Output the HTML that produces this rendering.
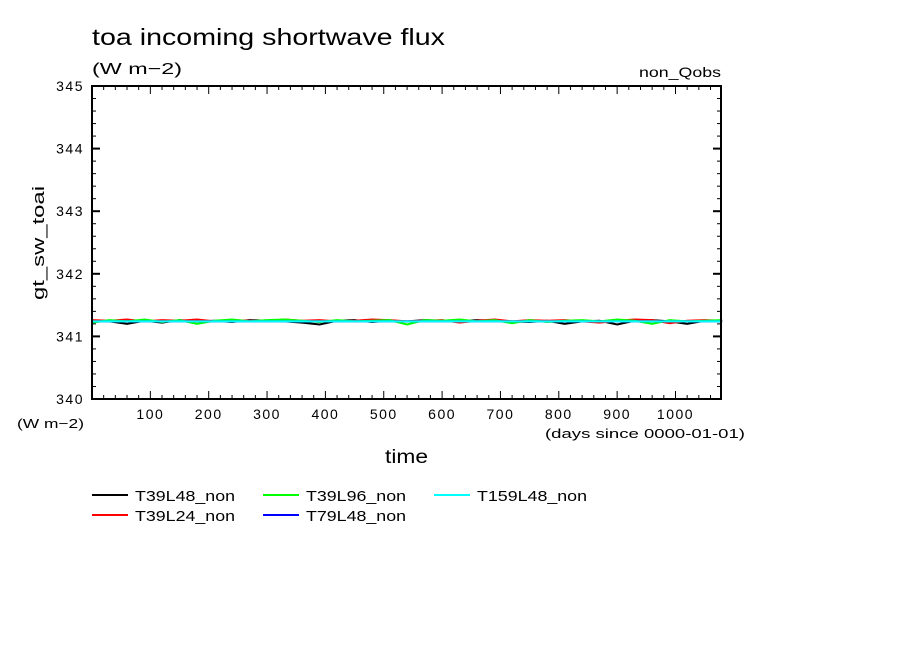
<!DOCTYPE html>
<html><head><meta charset="utf-8"><style>
body{margin:0;background:#fff;}
svg text{font-family:"Liberation Sans",sans-serif;fill:#000;}
</style></head><body>
<svg id="chart" width="904" height="654" viewBox="0 0 904 654" xmlns="http://www.w3.org/2000/svg">
<rect width="904" height="654" fill="#fff"/>
<text x="92" y="45" font-size="23" textLength="353" lengthAdjust="spacingAndGlyphs">toa incoming shortwave flux</text>
<text x="92" y="74" font-size="16" textLength="90" lengthAdjust="spacingAndGlyphs">(W m−2)</text>
<text x="639" y="77" font-size="14" textLength="82" lengthAdjust="spacingAndGlyphs">non_Qobs</text>
<text x="17" y="428" font-size="13" textLength="67" lengthAdjust="spacingAndGlyphs">(W m−2)</text>
<text x="545" y="438" font-size="13" textLength="200" lengthAdjust="spacingAndGlyphs">(days since 0000-01-01)</text>
<text x="385" y="463" font-size="19" textLength="43" lengthAdjust="spacingAndGlyphs">time</text>
<text transform="translate(44,300) rotate(-90)" font-size="17" textLength="114" lengthAdjust="spacingAndGlyphs">gt_sw_toai</text>
<g id="axes"></g>
<g id="series"></g>
<rect x="92" y="86" width="629" height="313" fill="none" stroke="#000" stroke-width="2"/>
<g id="legend"></g>
</svg>
<script>
const xTicks=[100,200,300,400,500,600,700,800,900,1000];
const yTicks=[340,341,342,343,344,345];
const days=[0,30,60,90,120,150,180,210,240,270,300,330,360,390,420,450,480,510,540,570,600,630,660,690,720,750,780,810,840,870,900,930,960,990,1020,1050,1080];
const sT39L48=[341.25,341.24,341.20,341.25,341.22,341.26,341.24,341.25,341.23,341.26,341.25,341.24,341.22,341.19,341.25,341.26,341.23,341.25,341.24,341.26,341.25,341.24,341.26,341.25,341.24,341.23,341.25,341.20,341.24,341.25,341.19,341.25,341.26,341.24,341.20,341.25,341.24];
const sT39L24=[341.26,341.25,341.27,341.24,341.26,341.25,341.27,341.24,341.26,341.25,341.24,341.27,341.25,341.26,341.24,341.25,341.27,341.26,341.24,341.25,341.26,341.22,341.25,341.27,341.24,341.26,341.25,341.26,341.24,341.22,341.25,341.27,341.26,341.21,341.25,341.26,341.25];
const sT39L96=[341.22,341.26,341.24,341.27,341.23,341.26,341.20,341.25,341.27,341.24,341.26,341.27,341.25,341.23,341.26,341.24,341.25,341.26,341.19,341.26,341.25,341.27,341.24,341.26,341.21,341.26,341.23,341.25,341.26,341.24,341.27,341.25,341.20,341.26,341.24,341.25,341.26];
const sT79L48=[341.24,341.24,341.24,341.24,341.24,341.24,341.24,341.24,341.24,341.24,341.24,341.24,341.24,341.24,341.24,341.24,341.24,341.24,341.24,341.24,341.24,341.24,341.24,341.24,341.24,341.24,341.24,341.24,341.24,341.24,341.24,341.24,341.24,341.24,341.24,341.24,341.24];
const sT159L48=[341.24,341.24,341.24,341.24,341.24,341.24,341.24,341.24,341.24,341.24,341.24,341.24,341.24,341.24,341.24,341.24,341.24,341.24,341.24,341.24,341.24,341.24,341.24,341.24,341.24,341.24,341.24,341.24,341.24,341.24,341.24,341.24,341.24,341.24,341.24,341.24,341.24];
const NS="http://www.w3.org/2000/svg";
const X0=92,X1=721,Y0=399,Y1=86,XMIN=0,XMAX=1078,YMIN=340,YMAX=345;
function xs(v){return X0+(v-XMIN)/(XMAX-XMIN)*(X1-X0);}
function ys(v){return Y0-(v-YMIN)/(YMAX-YMIN)*(Y0-Y1);}
function mk(t,a,p){const e=document.createElementNS(NS,t);for(const k in a)e.setAttribute(k,a[k]);p.appendChild(e);return e;}
const axes=document.getElementById('axes');
for(let d=20;d<XMAX;d+=20){const x=xs(d);const big=d%100===0;
 const t=mk('line',{x1:x,x2:x,y1:Y0,y2:Y0-(big?8:4),stroke:'#000','stroke-width':1},axes);
 
 
 const t2=mk('line',{x1:x,x2:x,y1:Y1,y2:Y1+(big?8:4),stroke:'#000','stroke-width':1},axes);
 
 }
xTicks.forEach(v=>{const t=mk('text',{x:xs(v),y:419,'font-size':14,'text-anchor':'middle','letter-spacing':'1.5'},axes);t.textContent=v;
 
 });
for(let i=0;i<=25;i++){const v=YMIN+i*0.2;const y=ys(v);const big=i%5===0;
 const t=mk('line',{x1:X0,x2:X0+(big?8:4),y1:y,y2:y,stroke:'#000','stroke-width':big?2:1},axes);
 
 
 const t2=mk('line',{x1:X1,x2:X1-(big?8:4),y1:y,y2:y,stroke:'#000','stroke-width':big?2:1},axes);
 
 }
yTicks.forEach(v=>{const t=mk('text',{x:84,y:ys(v)+5,'font-size':14,'text-anchor':'end','letter-spacing':'1.5'},axes);t.textContent=v;
 
 });
const series=[['T39L48_non',sT39L48,'#000'],['T39L24_non',sT39L24,'#f00'],['T39L96_non',sT39L96,'#0f0'],['T79L48_non',sT79L48,'#00f'],['T159L48_non',sT159L48,'#0ff']];
const sg=document.getElementById('series');
series.forEach(s=>{const pts=s[1].map((v,i)=>xs(days[i])+','+ys(v)).join(' ');
 const p=mk('polyline',{points:pts,fill:'none',stroke:s[2],'stroke-width':2},sg);
 
 });
const lg=document.getElementById('legend');
const pos=[[92,495],[92,515],[263,495],[263,515],[434,495]];
series.forEach((s,i)=>{const [x,y]=pos[i];
 const g=mk('g',{},lg);
 
 
 mk('line',{x1:x,x2:x+36,y1:y,y2:y,stroke:s[2],'stroke-width':2},g);
 const t=mk('text',{x:x+43,y:y+6,'font-size':15,textLength:s[0].length*10,lengthAdjust:'spacingAndGlyphs'},g);t.textContent=s[0];});
</script>
</body></html>
